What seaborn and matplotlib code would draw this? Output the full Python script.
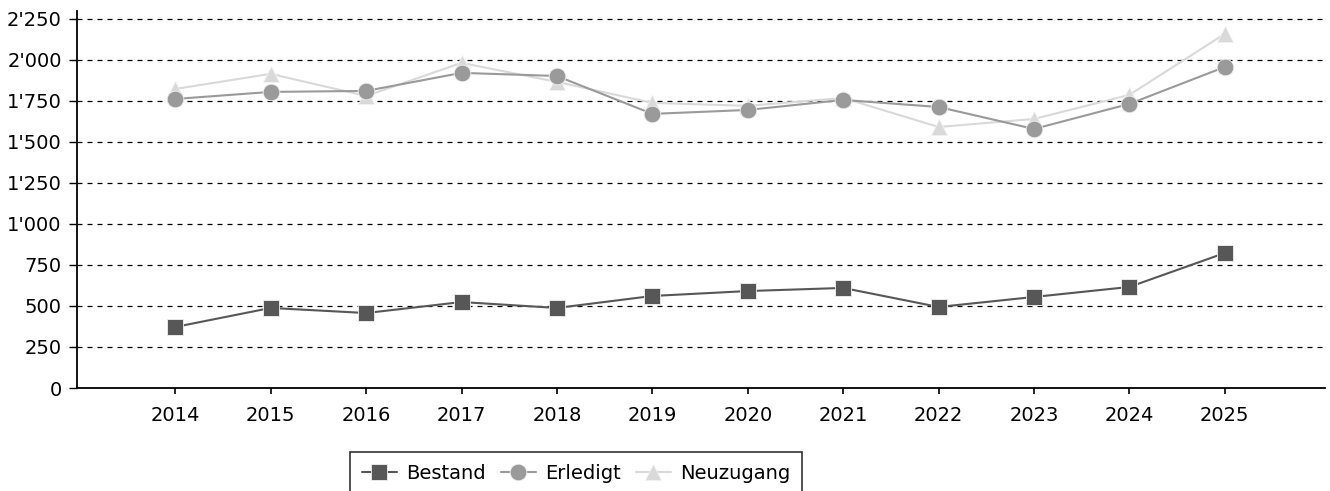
import matplotlib
matplotlib.use("Agg")
import matplotlib.pyplot as plt
import matplotlib.ticker as mticker
import seaborn as sns
import pandas as pd

years = [2014, 2015, 2016, 2017, 2018, 2019, 2020, 2021, 2022, 2023, 2024, 2025]
bestand = [372, 488, 457, 524, 488, 561, 591, 610, 494, 555, 616, 823]
erledigt = [1762, 1805, 1811, 1921, 1902, 1671, 1695, 1756, 1713, 1579, 1732, 1957]
neuzugang = [1823, 1915, 1780, 1982, 1866, 1738, 1720, 1768, 1591, 1640, 1787, 2159]
series_names = ["Bestand", "Erledigt", "Neuzugang"]
yticks = [0, 250, 500, 750, 1000, 1250, 1500, 1750, 2000, 2250]

sns.set_theme(style="white")
plt.rcParams['font.family'] = ['DejaVu Sans']
plt.rcParams['text.color'] = 'black'

rows = []
for name, vals in zip(series_names, [bestand, erledigt, neuzugang]):
    for y, v in zip(years, vals):
        rows.append({"Jahr": y, "Wert": v, "Serie": name})
df = pd.DataFrame(rows)

fig = plt.figure(figsize=(13.30, 4.91), dpi=100)
ax = fig.add_axes([77/1330, 1-388/491, (1325-77)/1330, (388-10.7)/491])

palette = {"Neuzugang": "#d9d9d9", "Erledigt": "#9a9a9a", "Bestand": "#575757"}
markers = {"Bestand": "s", "Erledigt": "o", "Neuzugang": "^"}
sizes = {"Bestand": 12, "Erledigt": 12, "Neuzugang": 11.5}

for name in ["Neuzugang", "Erledigt", "Bestand"]:
    sub = df[df["Serie"] == name]
    sns.lineplot(data=sub, x="Jahr", y="Wert", ax=ax, color=palette[name],
                 marker=markers[name], markersize=sizes[name], markeredgewidth=0.6,
                 markeredgecolor="#f2f2f2",
                 linewidth=1.5, label=name, legend=False)

ax.set_xlim(2012.97, 2026.05)
ax.set_ylim(0, 2300)
ax.set_yticks(yticks)
ax.set_xticks(years)
ax.yaxis.set_major_formatter(mticker.FuncFormatter(lambda v, p: f"{int(v):,}".replace(",", "'")))
ax.grid(axis="y", color="black", linestyle=(0, (4, 4)), linewidth=0.9)
ax.set_axisbelow(True)
for s in ["top", "right"]:
    ax.spines[s].set_visible(False)
for s in ["left", "bottom"]:
    ax.spines[s].set_color("black")
    ax.spines[s].set_linewidth(1.3)
ax.tick_params(axis="x", direction="out", length=4, width=1.2, color="black",
               labelsize=14, labelcolor="black", pad=9, bottom=True)
ax.tick_params(axis="y", direction="out", length=6, width=1.0, color="black",
               labelsize=14, labelcolor="black", pad=5, left=True)
ax.set_xlabel("")
ax.set_ylabel("")

handles, labels = ax.get_legend_handles_labels()
order = [labels.index(n) for n in series_names]
leg = fig.legend([handles[i] for i in order], [labels[i] for i in order],
                 loc="upper left", bbox_to_anchor=(350/1330, 1-452/491), ncol=3,
                 frameon=True, fancybox=False, edgecolor="black", fontsize=14,
                 handlelength=1.8, columnspacing=0.75, handletextpad=0.5,
                 borderpad=0.6, borderaxespad=0)
leg.get_frame().set_linewidth(1.2)
for t in leg.get_texts():
    t.set_color("black")

fig.savefig("out.png", dpi=100)
